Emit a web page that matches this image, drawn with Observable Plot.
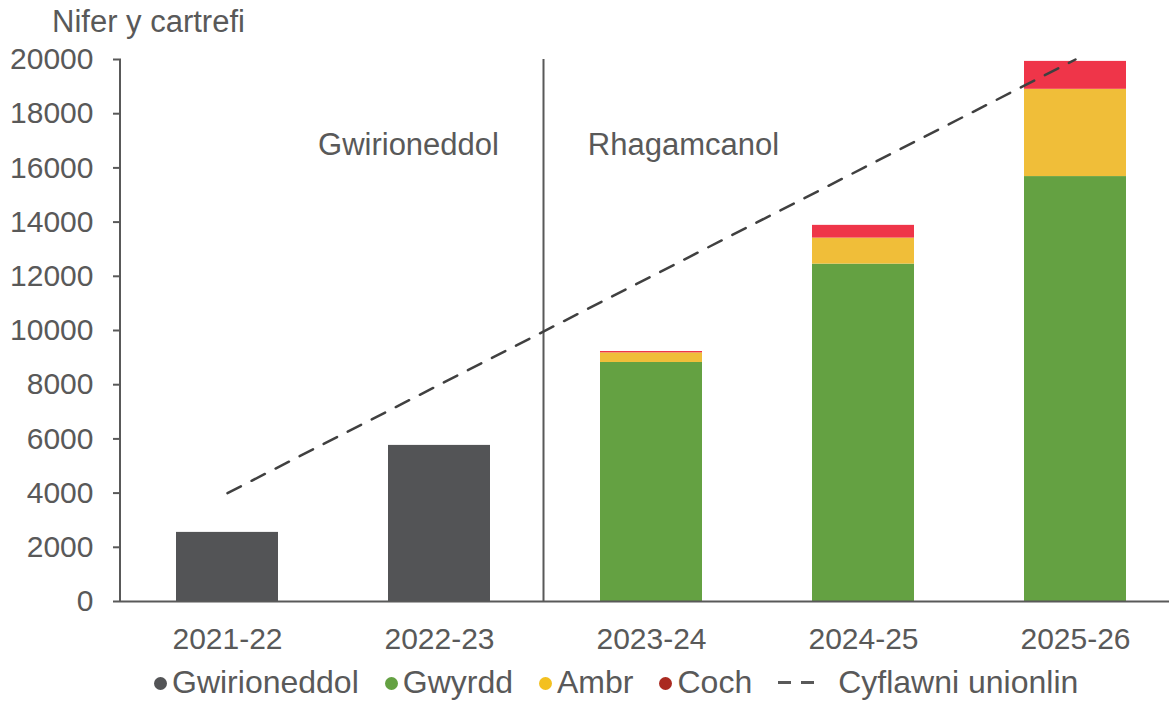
<!DOCTYPE html>
<html>
<head>
<meta charset="utf-8">
<script src="https://cdn.jsdelivr.net/npm/d3@7"></script>
<script src="https://cdn.jsdelivr.net/npm/@observablehq/plot@0.6"></script>
<style>
  html, body { margin: 0; padding: 0; background: #fff; }
  #wrap { position: relative; width: 1169px; height: 701px; overflow: hidden; font-family: "Liberation Sans", Arial, sans-serif; color: #595959; }
  #title { position: absolute; left: 52px; top: 6px; font-size: 31px; line-height: 31px; white-space: nowrap; }
  #chart { position: absolute; left: 0; top: 0; }
  #legend { position: absolute; left: 154px; top: 666px; display: flex; align-items: center; font-size: 32px; line-height: 32px; white-space: nowrap; }
  .item { display: flex; align-items: center; margin-right: 26px; }
  .dot { width: 13px; height: 13px; border-radius: 50%; margin-right: 5px; margin-top: 2px; }
  .dash { width: 36px; height: 3px; margin-right: 24px; margin-top: 0px; background: repeating-linear-gradient(to right, #595959 0 13px, transparent 13px 23px); }
</style>
</head>
<body>
<div id="wrap">
  <div id="chart"></div>
  <div id="title">Nifer y cartrefi</div>
  <div id="legend"></div>
</div>
<script>
// ---- Data ----
const years = ["2021-22", "2022-23", "2023-24", "2024-25", "2025-26"];
const actual = [2550, 5760, 0, 0, 0];          // Gwirioneddol
const green  = [0, 0, 8820, 12450, 15680];     // Gwyrdd
const amber  = [0, 0, 355, 960, 3220];         // Ambr
const red    = [0, 0, 50, 470, 1030];          // Coch
const target = [4000, 8000, 12000, 16000, 20000]; // Cyflawni unionlin
const seriesNames = ["Gwirioneddol", "Gwyrdd", "Ambr", "Coch"];
const barColors = ["#535456", "#64a142", "#f0be39", "#ef3549"];
const legendColors = ["#535456", "#64a142", "#f3c01f", "#aa2a20"];
const yTicks = [0, 2000, 4000, 6000, 8000, 10000, 12000, 14000, 16000, 18000, 20000];
const periodLabels = ["Gwirioneddol", "Rhagamcanol"];
const lineLabel = "Cyflawni unionlin";

// ---- Build tables ----
const seriesValues = [actual, green, amber, red];
const rows = [];
years.forEach((yr, i) => {
  seriesNames.forEach((s, j) => {
    if (seriesValues[j][i] > 0) rows.push({year: yr, series: s, value: seriesValues[j][i]});
  });
});
const lineRows = years.map((yr, i) => ({year: yr, value: target[i]}));

const chart = Plot.plot({
  width: 1169,
  height: 660,
  marginTop: 59,
  marginBottom: 59,
  marginLeft: 121,
  marginRight: 0,
  style: {fontFamily: "'Liberation Sans', Arial, sans-serif", fontSize: "30px", color: "#595959", background: "transparent", overflow: "visible"},
  x: {domain: years, range: [121, 1181], paddingInner: 0.52, paddingOuter: 0.26, label: null},
  y: {domain: [0, 20000], label: null},
  color: {domain: seriesNames, range: barColors},
  marks: [
    Plot.barY(rows, {x: "year", y: "value", fill: "series", order: seriesNames}),
    Plot.ruleY([0], {stroke: "#595959", strokeWidth: 2}),
    Plot.axisY({ticks: yTicks, tickFormat: d => String(d), tickSize: 8, tickPadding: 20, strokeWidth: 2, fontSize: 30}),
    Plot.ruleX([0], {x: () => years[2], y1: 0, y2: 20000, dx: -108, stroke: "#595959", strokeWidth: 2}),
    Plot.axisX({tickSize: 0, tickPadding: 26, fontSize: 30}),
    Plot.line(lineRows, {x: "year", y: "value", stroke: "#404040", strokeWidth: 2.5, strokeDasharray: "15 12"}),
    Plot.text([periodLabels[0]], {x: () => years[1], y: () => 16860, text: d => d, dx: -31, fontSize: 31, fill: "#595959"}),
    Plot.text([periodLabels[1]], {x: () => years[2], y: () => 16860, text: d => d, dx: 32, fontSize: 31, fill: "#595959"})
  ]
});
document.getElementById("chart").appendChild(chart);

// y axis vertical line placed through Plot's own y scale
const ys = chart.scale("y");
const svgNS = "http://www.w3.org/2000/svg";
const axisLine = document.createElementNS(svgNS, "line");
axisLine.setAttribute("x1", 120); axisLine.setAttribute("x2", 120);
axisLine.setAttribute("y1", ys.apply(20000)); axisLine.setAttribute("y2", ys.apply(0));
axisLine.setAttribute("stroke", "#595959"); axisLine.setAttribute("stroke-width", 2);
chart.appendChild(axisLine);

// ---- Legend ----
const legend = document.getElementById("legend");
seriesNames.forEach((s, i) => {
  const it = document.createElement("div");
  it.className = "item";
  it.innerHTML = `<span class="dot" style="background:${legendColors[i]}"></span><span>${s}</span>`;
  legend.appendChild(it);
});
const li = document.createElement("div");
li.className = "item";
li.innerHTML = `<span class="dash"></span><span>${lineLabel}</span>`;
legend.appendChild(li);
</script>
</body>
</html>
